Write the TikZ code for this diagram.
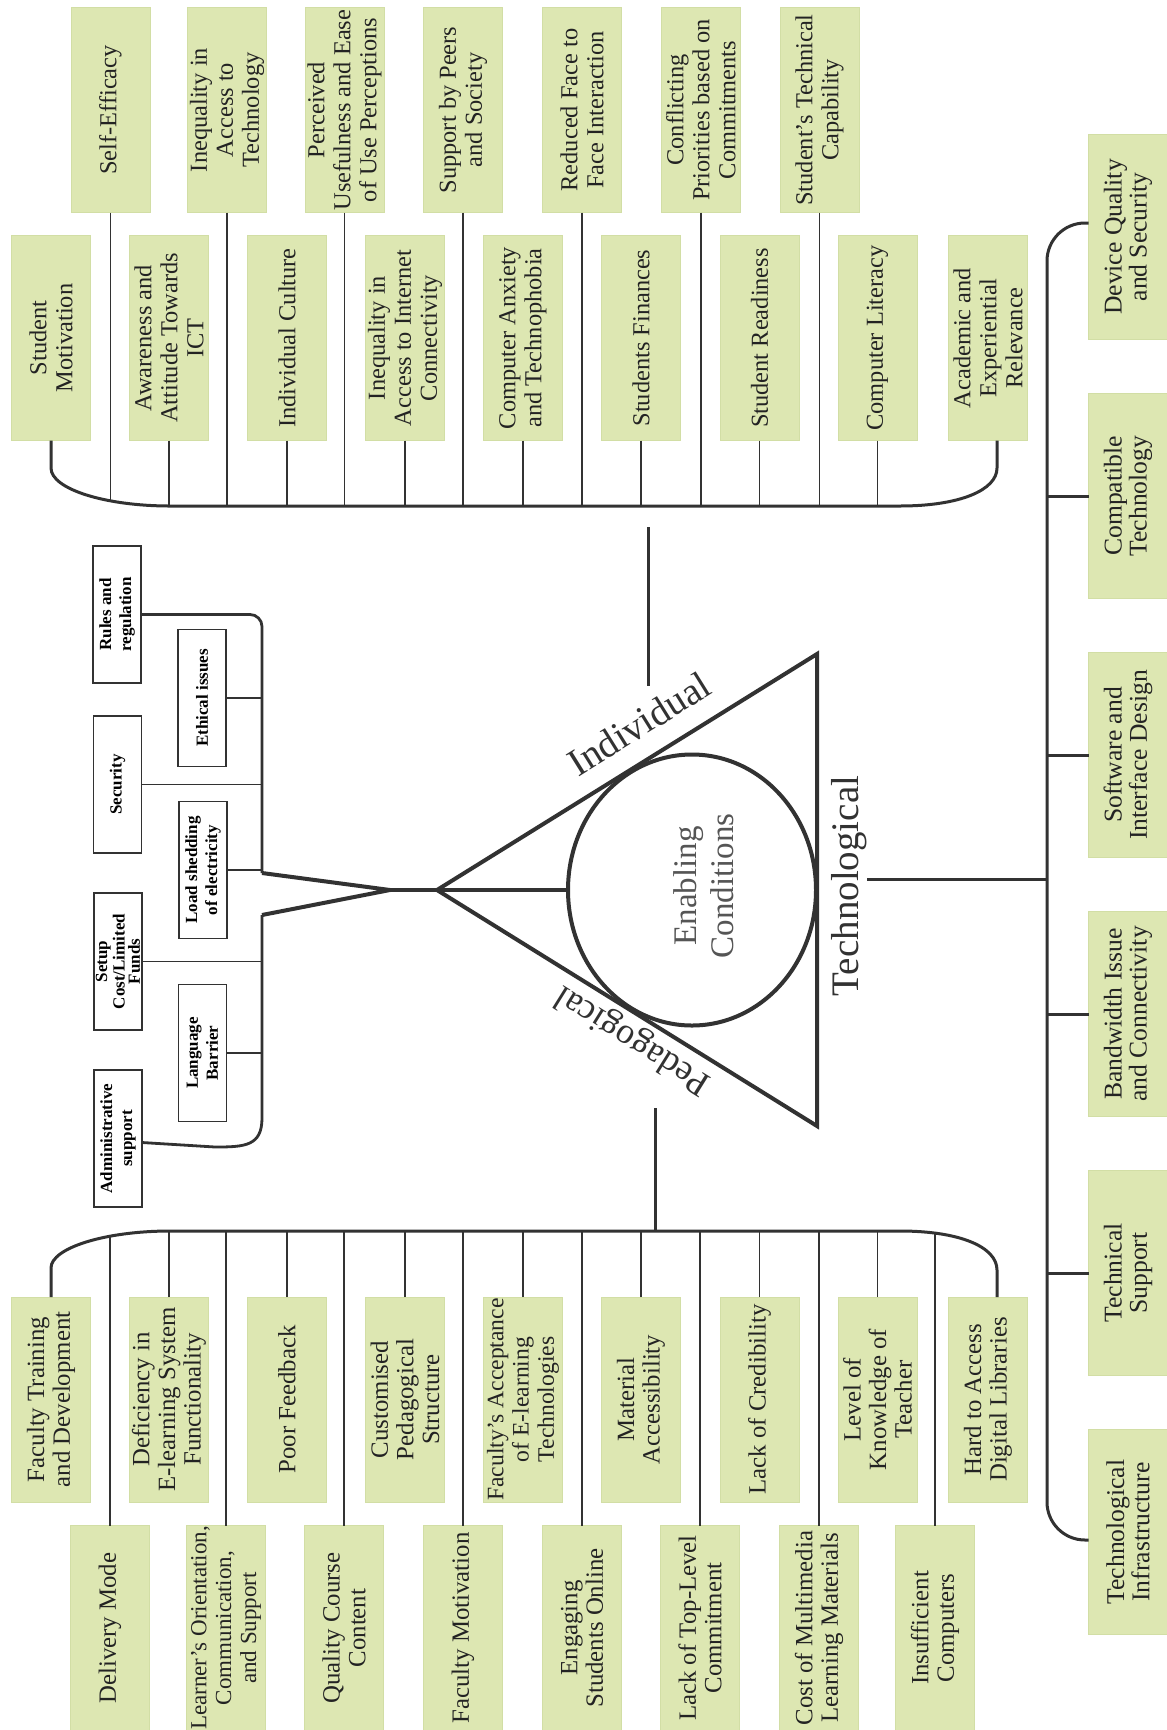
\documentclass[tikz,border=0pt]{standalone}
\usepackage{fontspec}
\setmainfont{Liberation Serif}
\usetikzlibrary{calc,shapes.geometric}
\definecolor{boxgreen}{RGB}{221,231,178}
\definecolor{boxedge}{RGB}{210,222,165}
\definecolor{ink}{RGB}{50,50,50}
\definecolor{txt}{RGB}{35,35,35}
\definecolor{egray}{RGB}{85,85,85}
\begin{document}
\begin{tikzpicture}[x=0.5pt,y=-0.5pt,
 gbox/.style={rectangle,fill=boxgreen,draw=boxedge,line width=0.4pt,rotate=90,align=center,minimum width=102.5pt,minimum height=39.5pt,inner xsep=0pt,inner ysep=0pt,outer sep=0pt,text=txt},
 topfont/.style={font=\fontsize{12.2}{13}\selectfont},
 botfont/.style={font=\fontsize{12.4}{12.8}\selectfont},
 rfont/.style={font=\fontsize{12.8}{12.6}\selectfont},
 wbox/.style={rectangle,draw=ink,line width=0.9pt,fill=white,rotate=90,align=center,minimum width=68.5pt,minimum height=24pt,inner sep=0.5pt,outer sep=0pt,text=black,font=\bfseries\fontsize{8.5}{10}\selectfont},
 thinln/.style={draw=ink,line width=0.7pt},
 brk/.style={draw=ink,line width=1.5pt},
 lsp/.style={draw=ink,line width=1.4pt},
 tieln/.style={draw=ink,line width=0.8pt},
 tri/.style={draw=ink,line width=2pt,line join=miter},
 biglab/.style={text=ink,font=\fontsize{19.5}{21}\selectfont,inner sep=0pt}
]
\fill[white] (0,0) rectangle (1167,1730);
\useasboundingbox (0,0) rectangle (1167,1730);

% ---------- top, row 1
\node[gbox,topfont] (t1) at (110.5,110) {Self-Efficacy};
\node[gbox,topfont] (t2) at (227,110) {Inequality in\\Access to\\Technology};
\node[gbox,topfont] (t3) at (344.5,110) {Perceived\\Usefulness and Ease\\of Use Perceptions};
\node[gbox,topfont] (t4) at (463,110) {Support by Peers\\and Society};
\node[gbox,topfont] (t5) at (582,110) {Reduced Face to\\Face Interaction};
\node[gbox,topfont] (t6) at (701,110) {Conflicting\\Priorities based on\\Commitments};
\node[gbox,topfont] (t7) at (819.5,110) {Student's Technical\\Capability};
% ---------- top, row 2
\node[gbox,topfont] (u1) at (51,338) {Student\\Motivation};
\node[gbox,topfont] (u2) at (169,338) {Awareness and\\Attitude Towards\\ICT};
\node[gbox,topfont] (u3) at (287,338) {Individual Culture};
\node[gbox,topfont] (u4) at (405,338) {Inequality in\\Access to Internet\\Connectivity};
\node[gbox,topfont] (u5) at (523,338) {Computer Anxiety\\and Technophobia};
\node[gbox,topfont] (u6) at (641,338) {Students Finances};
\node[gbox,topfont] (u7) at (759.5,338) {Student Readiness};
\node[gbox,topfont] (u8) at (877.5,338) {Computer Literacy};
\node[gbox,topfont] (u9) at (988,338) {Academic and\\Experiential\\Relevance};

% ---------- bottom, row 1
\node[gbox,botfont] (v1) at (51,1399.5) {Faculty Training\\and Development};
\node[gbox,botfont] (v2) at (169,1399.5) {Deficiency in\\E-learning System\\Functionality};
\node[gbox,botfont] (v3) at (287,1399.5) {Poor Feedback};
\node[gbox,botfont] (v4) at (405,1399.5) {Customised\\Pedagogical\\Structure};
\node[gbox,font=\fontsize{11.8}{12.6}\selectfont] (v5) at (523,1399.5) {Faculty's Acceptance\\of E-learning\\Technologies};
\node[gbox,botfont] (v6) at (641,1399.5) {Material\\Accessibility};
\node[gbox,botfont] (v7) at (759.5,1399.5) {Lack of Credibility};
\node[gbox,botfont] (v8) at (877.5,1399.5) {Level of\\Knowledge of\\Teacher};
\node[gbox,botfont] (v9) at (988,1399.5) {Hard to Access\\Digital Libraries};
% ---------- bottom, row 2
\node[gbox,botfont] (w1) at (110,1628) {Delivery Mode};
\node[gbox,font=\fontsize{11.5}{12.4}\selectfont] (w2) at (226,1628) {Learner's Orientation,\\Communication,\\and Support};
\node[gbox,botfont] (w3) at (344,1628) {Quality Course\\Content};
\node[gbox,botfont] (w4) at (463,1628) {Faculty Motivation};
\node[gbox,botfont] (w5) at (582,1628) {Engaging\\Students Online};
\node[gbox,botfont] (w6) at (700,1628) {Lack of Top-Level\\Commitment};
\node[gbox,botfont] (w7) at (819,1628) {Cost of Multimedia\\Learning Materials};
\node[gbox,botfont] (w8) at (935,1628) {Insufficient\\Computers};

% ---------- right column
\node[gbox,rfont] (rc1) at (1128,237) {Device Quality\\and Security};
\node[gbox,rfont] (rc2) at (1128,496) {Compatible\\Technology};
\node[gbox,rfont] (rc3) at (1128,755) {Software and\\Interface Design};
\node[gbox,rfont] (rc4) at (1128,1014) {Bandwidth Issue\\and Connectivity};
\node[gbox,rfont] (rc5) at (1128,1273) {Technical\\Support};
\node[gbox,rfont] (rc6) at (1128,1532) {Technological\\Infrastructure};

% ---------- left block
\node[wbox] (rules) at (117,614.5) {Rules and\\regulation};
\node[wbox] (ethic) at (202,698) {Ethical issues};
\node[wbox] (secu) at (117.5,784.5) {Security};
\node[wbox] (load) at (203,870) {Load shedding\\of electricity};
\node[wbox,font=\bfseries\fontsize{8.5}{7.6}\selectfont] (setup) at (118,961.5) {Setup\\Cost/Limited\\Funds};
\node[wbox] (lang) at (202.5,1053) {Language\\Barrier};
\node[wbox] (admin) at (118,1138.5) {Administrative\\support};

% ---------- coordinates
\coordinate (bT) at (0,506);
\coordinate (bB) at (0,1231);
\coordinate (ls) at (262,0);
\coordinate (spine) at (1047,0);
\coordinate (fork) at (390,890);
\coordinate (apex) at (437,890);
\coordinate (tv1) at (817,654);
\coordinate (tv2) at (817,1126);
\coordinate (indtop) at (648,527);
\coordinate (indbot) at (648,686);
\coordinate (pedtop) at (655,1108);

% ---------- top bracket
\draw[brk] (u1.west) -- (51,468) .. controls (51,489) and (105,506) .. (170,506) -- (900,506) .. controls (960,506) and (997,490) .. (997,468) -- ($(u9.west)+(9,0)$);
\foreach \n in {t2,t3,t4,t5,t6,t7,u2,u3,u4,u5,u6,u7,u8}
  \draw[thinln] (\n.west) -- (\n.west |- bT);
\draw[thinln] (t1.west) -- ($(t1.west |- bT)+(0,-5)$);

% ---------- bottom bracket
\draw[brk] (v1.east) -- (51,1268) .. controls (51,1248) and (105,1231) .. (170,1231) -- (900,1231) .. controls (960,1231) and (997,1247) .. (997,1270) -- ($(v9.east)+(9,0)$);
\foreach \n in {v2,v3,v4,v5,v6,v7,v8,w2,w3,w4,w5,w6,w7}
  \draw[thinln] (\n.east) -- (\n.east |- bB);
\draw[thinln] (w1.east) -- ($(w1.east |- bB)+(0,5)$);
\draw[thinln] (w8.east) -- ($(w8.east |- bB)+(0,2)$);

% ---------- right spine
\coordinate (rtop) at ($(rc1.north)+(0,-14)$);
\coordinate (rbot) at ($(rc6.north)+(0,8)$);
\draw[brk,rounded corners=19pt] (rtop) -- (rtop -| spine) -- (rbot -| spine) -- (rbot);
\foreach \n in {rc2,rc3,rc4,rc5}
  \draw[brk] (\n.north) -- (\n.north -| spine);

% ---------- left block connectors
\draw[lsp,rounded corners=6pt] (rules.south) -- (rules.south -| ls) -- (262,873);
\draw[lsp] (262,915) -- (262,1118) .. controls (262,1146) and (245,1147) .. (215,1147) -- ($(admin.south)+(0,4)$);
\foreach \n in {ethic,secu,load,setup,lang}
  \draw[tieln] (\n.south) -- (\n.south -| ls);
\draw[tri] (262,873) -- (fork) -- (262,915);
\draw[tri] (fork) -- (apex);

% ---------- triangle and circle
\draw[tri] (apex) -- (tv1) -- (tv2) -- cycle;
\node[draw=ink,line width=2pt,ellipse,minimum width=124pt,minimum height=135.5pt,inner sep=0pt] (ec) at (692,890) {};
\draw[tri] (apex) -- (ec.west);
\node[rotate=90,align=center,text=egray,font=\fontsize{16.5}{18.5}\selectfont,inner sep=0pt] (ectext) at (704,886) {Enabling\\Conditions};

% ---------- labels
\node[biglab,rotate=32,anchor=base] (indl) at (646,735) {Individual};
\node[biglab,rotate=148,anchor=base,font=\fontsize{18}{20}\selectfont] (pedl) at (638,1032) {Pedagogical};
\node[biglab,rotate=90] (techl) at (849,886) {Technological};

\draw[brk] (indtop) -- (indbot);
\draw[brk] (pedtop) -- (pedtop |- bB);
\coordinate (techtie) at ($(techl.south)+(0,-7)$);
\draw[brk] (techtie) -- (techtie -| spine);
\end{tikzpicture}
\end{document}
